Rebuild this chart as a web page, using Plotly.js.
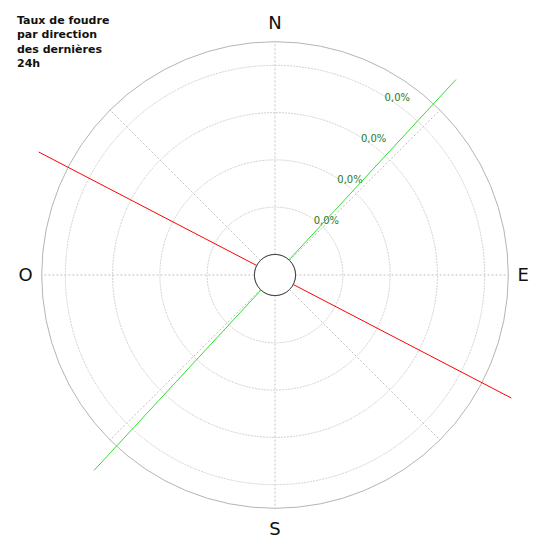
<!DOCTYPE html>
<html>
<head>
<meta charset="utf-8">
<script src="https://cdn.plot.ly/plotly-3.0.1.min.js"></script>
<style>html,body{margin:0;padding:0;background:#fff;}#chart{width:550px;height:550px;}</style>
</head>
<body>
<div id="chart"></div>
<script>
// ---- data ----
const directionTicks = [0, 45, 90, 135, 180, 225, 270, 315];
const directionLabels = ['N', '', 'E', '', 'S', '', 'O', ''];
const radialTickValues = [1, 2, 3, 4];
const radialTickLabels = ['0,0%', '0,0%', '0,0%', '0,0%'];
const radialMax = 4.5;
const redTheta = [297.5, 117.5];
const redR = [5.2, 5.2];
const greenTheta = [42.8, 222.8];
const greenR = [5.2, 5.2];
const titleText = 'Taux de foudre<br>par direction<br>des dernières<br>24h';

// ---- geometry (pixels) ----
const W = 550, C = 275;
const R_GRID = 233.3, R_HOLE = 20.6, R_LINES = 272;
const unitPx = (R_GRID - R_HOLE) / radialMax;
function dom(r) { return [(C - r) / W, (C + r) / W]; }

function seg(theta, r, color, i) {
  return {
    type: 'scatterpolar', subplot: 'polar2', mode: 'lines',
    r: [0, r[i]], theta: [theta[i], theta[i]],
    line: {color: color, width: 1}, hoverinfo: 'skip', showlegend: false
  };
}

const traces = [
  {type: 'scatterpolar', subplot: 'polar', mode: 'markers', r: [0], theta: [0],
   marker: {opacity: 0}, hoverinfo: 'skip', showlegend: false},
  {type: 'scatterpolar', subplot: 'polar3', mode: 'markers', r: [0], theta: [0],
   marker: {opacity: 0}, hoverinfo: 'skip', showlegend: false}
];
for (let i = 0; i < redTheta.length; i++) traces.push(seg(redTheta, redR, '#ff0000', i));
for (let i = 0; i < greenTheta.length; i++) traces.push(seg(greenTheta, greenR, '#33dd33', i));

const layout = {
  width: 550, height: 550,
  margin: {l: 0, r: 0, t: 0, b: 0},
  paper_bgcolor: '#fff',
  showlegend: false,
  title: {
    text: '<b>' + titleText + '</b>',
    x: 17 / W, xanchor: 'left', xref: 'paper',
    y: 1 - 24 / W, yanchor: 'top', yref: 'paper',
    font: {family: 'DejaVu Sans', size: 11, color: '#111'}
  },
  polar: {
    domain: {x: dom(R_GRID), y: dom(R_GRID)},
    hole: R_HOLE / R_GRID,
    bgcolor: 'rgba(0,0,0,0)',
    radialaxis: {
      range: [0, radialMax], tickvals: radialTickValues, ticktext: radialTickLabels,
      angle: 60, side: 'clockwise', showline: false, ticks: '', tickangle: 60,
      gridcolor: '#d2d2d2', griddash: '2px,1px', gridwidth: 1,
      tickfont: {family: 'DejaVu Sans', size: 10, color: '#1f7a1f'}
    },
    angularaxis: {
      rotation: 90, direction: 'clockwise',
      tickmode: 'array', tickvals: directionTicks, ticktext: directionLabels,
      showline: true, linecolor: '#b4b4b4', linewidth: 1,
      gridcolor: '#c4c4c4', griddash: '2px,2px', gridwidth: 1,
      ticks: 'outside', ticklen: 5, tickcolor: 'rgba(0,0,0,0)',
      tickfont: {family: 'DejaVu Sans', size: 18, color: '#111'}
    }
  },
  polar2: {
    domain: {x: dom(R_LINES), y: dom(R_LINES)},
    hole: R_HOLE / R_LINES,
    bgcolor: 'rgba(0,0,0,0)',
    radialaxis: {range: [0, (R_LINES - R_HOLE) / unitPx], visible: false},
    angularaxis: {rotation: 90, direction: 'clockwise', visible: false}
  },
  polar3: {
    domain: {x: dom(R_HOLE), y: dom(R_HOLE)},
    bgcolor: 'rgba(0,0,0,0)',
    radialaxis: {visible: false},
    angularaxis: {showline: true, linecolor: '#444', linewidth: 1, showgrid: false,
                  showticklabels: false, ticks: ''}
  }
};

Plotly.newPlot('chart', traces, layout, {displayModeBar: false, staticPlot: true});
</script>
</body>
</html>
